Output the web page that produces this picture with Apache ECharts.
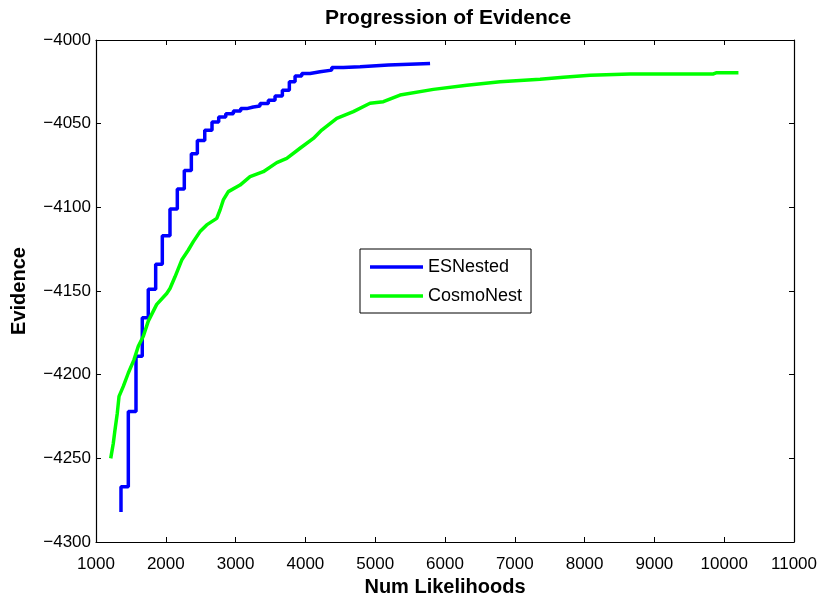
<!DOCTYPE html>
<html>
<head>
<meta charset="utf-8">
<script src="https://cdn.jsdelivr.net/npm/echarts@6/dist/echarts.min.js"></script>
<style>
    html, body { margin: 0; padding: 0; background: #fff; }
    #chart { width: 822px; height: 599px; }
</style>
</head>
<body>
<div id="chart"></div>
<script>
//ESNested - step curve [likelihoods, evidence]
const esNested = [
    [1358, -4282], [1358, -4267], [1463, -4222], [1573, -4189], [1663, -4166],
    [1749, -4149], [1855, -4134], [1950, -4117], [2060, -4101], [2165, -4089],
    [2265, -4078], [2366, -4068], [2452, -4060], [2558, -4054], [2662, -4049],
    [2758, -4046], [2859, -4044], [2968, -4042.5], [3073, -4041], [3160, -4040],
    [3254, -4039.5], [3350, -4038], [3469, -4036], [3565, -4033.5], [3670, -4030],
    [3770, -4025], [3852, -4021.5], [3948, -4020], [4067, -4019], [4210, -4018],
    [4378, -4016.5], [4544, -4016], [4783, -4015], [5189, -4014], [5786, -4014]
];
//CosmoNest
const cosmoNest = [
    [1211, -4250], [1248, -4241], [1272, -4233], [1305, -4223], [1330, -4213],
    [1391, -4207], [1463, -4199], [1545, -4191], [1606, -4183], [1678, -4177],
    [1749, -4168], [1870, -4158], [2013, -4151.5], [2060, -4148.5], [2132, -4141.5],
    [2228, -4131.5], [2323, -4125.5], [2394, -4120.5], [2490, -4114.5], [2586, -4110.5],
    [2730, -4106.6], [2777, -4101.6], [2824, -4095.6], [2896, -4090.6], [3064, -4086.7],
    [3207, -4081.7], [3397, -4078.7], [3590, -4073.3], [3733, -4070.7], [3923, -4064.7],
    [4114, -4058.8], [4234, -4053.8], [4449, -4046.8], [4687, -4042.8], [4926, -4037.8],
    [5117, -4036.9], [5356, -4032.9], [5834, -4029.5], [6312, -4027], [6789, -4025],
    [7362, -4023.5], [7696, -4022.3], [8079, -4021.1], [8652, -4020.3], [9846, -4020.3],
    [9894, -4019.5], [10204, -4019.5]
];
const seriesNames = ['ESNested', 'CosmoNest'];
const xRange = [1000, 11000, 1000];
const yRange = [-4300, -4000, 50];

const font = 'Liberation Sans, Arial, Helvetica, sans-serif';
const chart = echarts.init(document.getElementById('chart'));

//坐标轴公共样式
function axisBase(showLabel) {
    return {
        axisLine: { show: true, onZero: false, lineStyle: { color: '#000', width: 1.2 } },
        axisTick: { show: true, inside: true, length: 5, lineStyle: { color: '#000' } },
        splitLine: { show: false },
        axisLabel: {
            show: showLabel,
            color: '#000',
            fontSize: 17,
            fontFamily: font,
            formatter: function (v) { return String(v).replace('-', '\u2212'); }
        }
    };
}

const nameStyle = { color: '#000', fontSize: 20, fontWeight: 'bold', fontFamily: font };

const xBottom = Object.assign(axisBase(true), {
    type: 'value', position: 'bottom',
    min: xRange[0], max: xRange[1], interval: xRange[2],
    name: 'Num Likelihoods', nameLocation: 'middle', nameGap: 31,
    nameTextStyle: nameStyle
});
xBottom.axisLabel.margin = 14;
const xTop = Object.assign(axisBase(false), {
    type: 'value', position: 'top',
    min: xRange[0], max: xRange[1], interval: xRange[2]
});
const yLeft = Object.assign(axisBase(true), {
    type: 'value', position: 'left',
    min: yRange[0], max: yRange[1], interval: yRange[2],
    name: 'Evidence', nameLocation: 'middle', nameGap: 67,
    nameTextStyle: nameStyle
});
yLeft.axisLabel.margin = 5;
const yRight = Object.assign(axisBase(false), {
    type: 'value', position: 'right',
    min: yRange[0], max: yRange[1], interval: yRange[2]
});

const option = {
    animation: false,
    backgroundColor: '#fff',
    title: {
        text: 'Progression of Evidence',
        left: 443, top: 3, textAlign: 'center',
        textStyle: { color: '#000', fontSize: 21, fontWeight: 'bold', fontFamily: font }
    },
    grid: { left: 96, right: 28, top: 40, bottom: 57, containLabel: false, outerBoundsMode: 'none' },
    legend: {
        orient: 'vertical',
        left: 360, top: 249,
        padding: [9, 9, 8, 10],
        icon: 'rect',
        itemWidth: 53, itemHeight: 3.5, itemGap: 11,
        borderColor: '#000', borderWidth: 1,
        backgroundColor: '#fff',
        textStyle: { color: '#000', fontSize: 18, lineHeight: 18, fontFamily: font },
        data: seriesNames
    },
    xAxis: [xBottom, xTop],
    yAxis: [yLeft, yRight],
    series: [
        {
            name: seriesNames[0], type: 'line', step: 'end',
            data: esNested, symbol: 'none',
            lineStyle: { color: '#0000ff', width: 3.5 },
            itemStyle: { color: '#0000ff' }
        },
        {
            name: seriesNames[1], type: 'line',
            data: cosmoNest, symbol: 'none',
            lineStyle: { color: '#00ff00', width: 3.5 },
            itemStyle: { color: '#00ff00' }
        }
    ]
};
chart.setOption(option);
</script>
</body>
</html>
